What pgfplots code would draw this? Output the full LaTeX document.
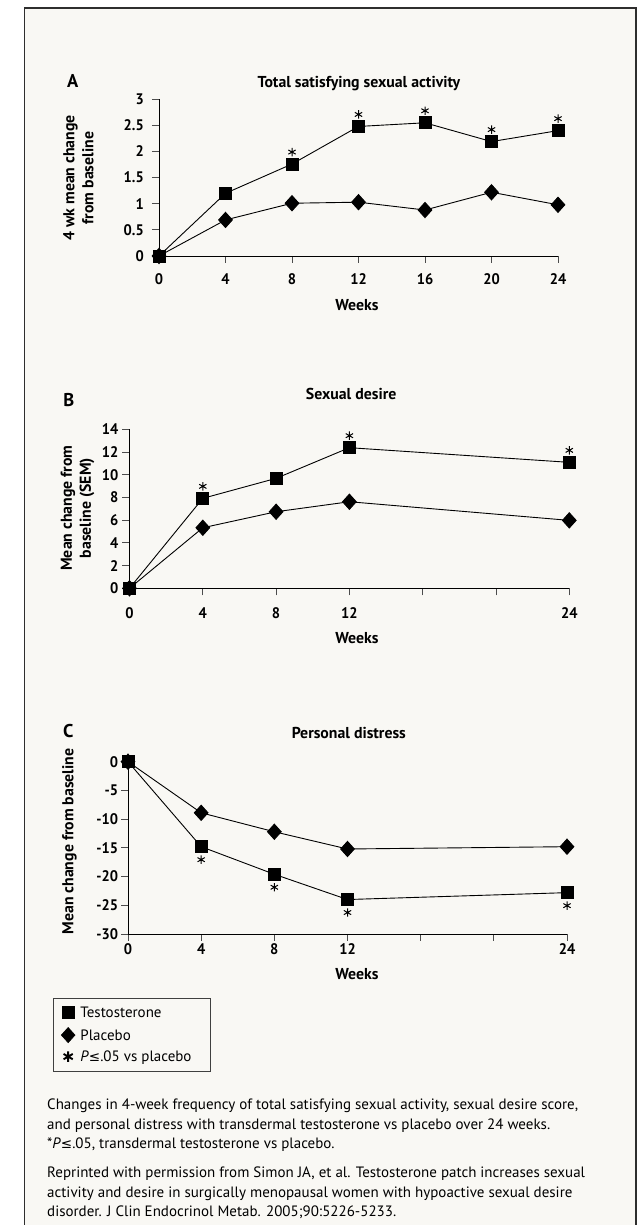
\documentclass[border=0pt]{standalone}
\usepackage{fontspec}
\setmainfont{PT Sans}
\newfontfamily\tickfam[FakeStretch=0.95]{PT Sans}
\newfontfamily\dejavu{DejaVu Sans}
\usepackage{pgfplots}
\pgfplotsset{compat=1.18}
\definecolor{bg}{HTML}{F9F8F4}
\definecolor{framec}{HTML}{2E2E2E}
\newcommand{\capfont}{\fontsize{15}{19.5}\selectfont}
\newcommand{\legfont}{\fontsize{15}{18}\selectfont}
\newcommand{\tickfont}{\tickfam\bfseries\fontsize{15.3}{18}\selectfont}
\newcommand{\lblfont}{\bfseries\fontsize{15.8}{19}\selectfont}
\newcommand{\letfont}{\bfseries\fontsize{18.5}{22}\selectfont}
\newcommand{\lesym}{{\dejavu\fontsize{13.5}{16}\selectfont ≤}}
\pgfplotsset{
  panel/.style={
    scale only axis, clip=false,
    axis x line*=bottom, axis y line*=left,
    axis line style={black, line width=0.9pt},
    tick align=outside, major tick length=7pt,
    tick style={color=black!70, line width=0.9pt},
    xmin=0, xmax=24, enlargelimits=false,
    xtick={0,4,8,12,16,20,24},
    ticklabel style={font=\tickfont, inner sep=0pt},
    xticklabel style={anchor=base},
    yticklabel style={anchor=east},
    label style={font=\lblfont},
    xlabel style={anchor=base},
    ylabel style={anchor=center, align=center},
    title style={font=\lblfont, anchor=base},
  },
  tser/.style={black, line width=0.9pt, mark=square*, mark size=6pt, mark options={solid}},
  pser/.style={black, line width=0.9pt, mark=diamond*, mark size=7.6pt, mark options={solid, xscale=1.2}},
  sigup/.style={only marks, mark=asterisk, mark size=4.2pt, mark options={line width=1pt, black, yshift=12pt}},
  sigdown/.style={only marks, mark=asterisk, mark size=4.2pt, mark options={line width=1pt, black, yshift=-13pt}},
}
\begin{document}
\begin{tikzpicture}
\useasboundingbox (0pt,0pt) rectangle (641pt,1225pt);
\fill[white] (0pt,0pt) rectangle (641pt,1225pt);
\filldraw[fill=bg, draw=framec, line width=1.2pt] (24.5pt,-5pt) rectangle (636pt,1217pt);

% Panel A
\begin{axis}[panel, at={(159pt,969pt)}, anchor=south west, width=399pt, height=156.7pt,
  ymin=0, ymax=3, ytick={0,0.5,1,1.5,2,2.5,3}, yticklabels={0,0.5,1,1.5,2,2.5,3},
  xticklabels={0,4,8,12,16,20,24},
  xticklabel style={yshift=-22pt}, yticklabel style={xshift=-8pt},
  title={Total satisfying sexual activity}, title style={at={(axis description cs:0.501,1.034)}},
  xlabel={Weeks}, xlabel style={at={(axis description cs:0.496,-0.345)}},
  ylabel={4 wk mean change\\from baseline}, ylabel style={at={(axis description cs:-0.2018,0.498)}},
]
\addplot[pser] coordinates {(0,0) (4,0.69) (8,1.01) (12,1.03) (16,0.88) (20,1.22) (24,0.98)};
\addplot[tser] coordinates {(0,0) (4,1.20) (8,1.76) (12,2.48) (16,2.55) (20,2.19) (24,2.40)};
\addplot[sigup] coordinates {(8,1.76) (12,2.48) (16,2.55) (20,2.19) (24,2.40)};
\node[font=\letfont, anchor=base west, inner sep=0pt] at (rel axis cs:-0.2306,1.0766) {A};
\end{axis}

% Panel B
\begin{axis}[panel, at={(129.5pt,636.7pt)}, anchor=south west, width=439.8pt, height=159pt,
  ymin=0, ymax=14, ytick={0,2,4,6,8,10,12,14}, yticklabels={0,2,4,6,8,10,12,14},
  xticklabels={0,4,8,12,,,24},
  xticklabel style={yshift=-23pt}, yticklabel style={xshift=-4pt},
  title={Sexual desire}, title style={at={(axis description cs:0.504,1.1465)}},
  xlabel={Weeks}, xlabel style={at={(axis description cs:0.517,-0.346)}},
  ylabel={Mean change from\\baseline (SEM)}, ylabel style={at={(axis description cs:-0.118,0.505)}},
]
\addplot[pser] coordinates {(0,0) (4,5.33) (8,6.74) (12,7.62) (24,5.98)};
\addplot[tser] coordinates {(0,0) (4,7.92) (8,9.68) (12,12.38) (24,11.09)};
\addplot[sigup] coordinates {(4,7.92) (12,12.38) (24,11.09)};
\node[font=\letfont, anchor=base west, inner sep=0pt] at (rel axis cs:-0.151,1.142) {B};
\end{axis}

% Panel C
\begin{axis}[panel, at={(128pt,291pt)}, anchor=south west, width=439pt, height=172.3pt,
  ymin=-30, ymax=0, ytick={-30,-25,-20,-15,-10,-5,0}, yticklabels={-30,-25,-20,-15,-10,-5,0},
  xticklabels={0,4,8,12,,,24},
  xticklabel style={yshift=-14pt}, yticklabel style={xshift=-2.6pt},
  title={Personal distress}, title style={at={(axis description cs:0.503,1.097)}},
  xlabel={Weeks}, xlabel style={at={(axis description cs:0.5216,-0.263)}},
  ylabel={Mean change from baseline}, ylabel style={at={(axis description cs:-0.1335,0.537)}},
  legend style={at={(axis description cs:-0.170,-0.3714)}, anchor=north west,
    draw=black!75, line width=0.8pt, fill=bg, inner xsep=6.4pt, inner ysep=8pt,
    row sep=7.5pt, column sep=4.3pt,
    nodes={inner sep=0pt, text height=11pt, text depth=2.5pt, font=\legfont},
    cells={anchor=base west}},
]
\addplot[pser, forget plot] coordinates {(0,0) (4,-8.9) (8,-12.2) (12,-15.2) (24,-14.8)};
\addplot[tser, forget plot] coordinates {(0,0) (4,-14.8) (8,-19.6) (12,-24.0) (24,-22.8)};
\addplot[sigdown, forget plot] coordinates {(4,-14.8) (8,-19.6) (12,-24.0) (24,-22.8)};
\node[font=\letfont, anchor=base west, inner sep=0pt] at (rel axis cs:-0.148,1.143) {C};
\addlegendimage{legend image code/.code={\path[draw=none, fill=none] (0pt,0pt) rectangle (16pt,10pt); \draw[black, line width=0.6pt] plot[only marks, mark=square*, mark size=5.8pt] coordinates {(8pt,5.3pt)};}}
\addlegendentry{Testosterone}
\addlegendimage{legend image code/.code={\path[draw=none, fill=none] (0pt,0pt) rectangle (16pt,10pt); \draw[black, line width=0.6pt] plot[only marks, mark=diamond*, mark size=7.6pt, mark options={xscale=1.2}] coordinates {(8pt,5.3pt)};}}
\addlegendentry{Placebo}
\addlegendimage{legend image code/.code={\path[draw=none, fill=none] (0pt,0pt) rectangle (16pt,10pt); \draw[black, line width=1.9pt] plot[only marks, mark=asterisk, mark size=5.3pt] coordinates {(8pt,4.8pt)};}}
\addlegendentry{\textit{P}\lesym.05 vs placebo\hspace*{12pt}}
\end{axis}

% Caption
\node[anchor=base west, inner sep=0pt, font=\capfont] at (47pt,115.7pt) {Changes in 4-week frequency of total satisfying sexual activity, sexual desire score,};
\node[anchor=base west, inner sep=0pt, font=\capfont] at (47pt,95.7pt) {and personal distress with transdermal testosterone vs placebo over 24 weeks.};
\node[anchor=base west, inner sep=0pt, font=\capfont] at (47pt,76pt) {*\textit{P}\lesym.05, transdermal testosterone vs placebo.};
\node[anchor=base west, inner sep=0pt, font=\capfont] at (47pt,47.7pt) {Reprinted with permission from Simon JA, et al. Testosterone patch increases sexual};
\node[anchor=base west, inner sep=0pt, font=\capfont] at (47pt,27.7pt) {activity and desire in surgically menopausal women with hypoactive sexual desire};
\node[anchor=base west, inner sep=0pt, font=\capfont] at (47pt,8.3pt) {disorder. J Clin Endocrinol Metab. 2005;90:5226-5233.};
\end{tikzpicture}
\end{document}
